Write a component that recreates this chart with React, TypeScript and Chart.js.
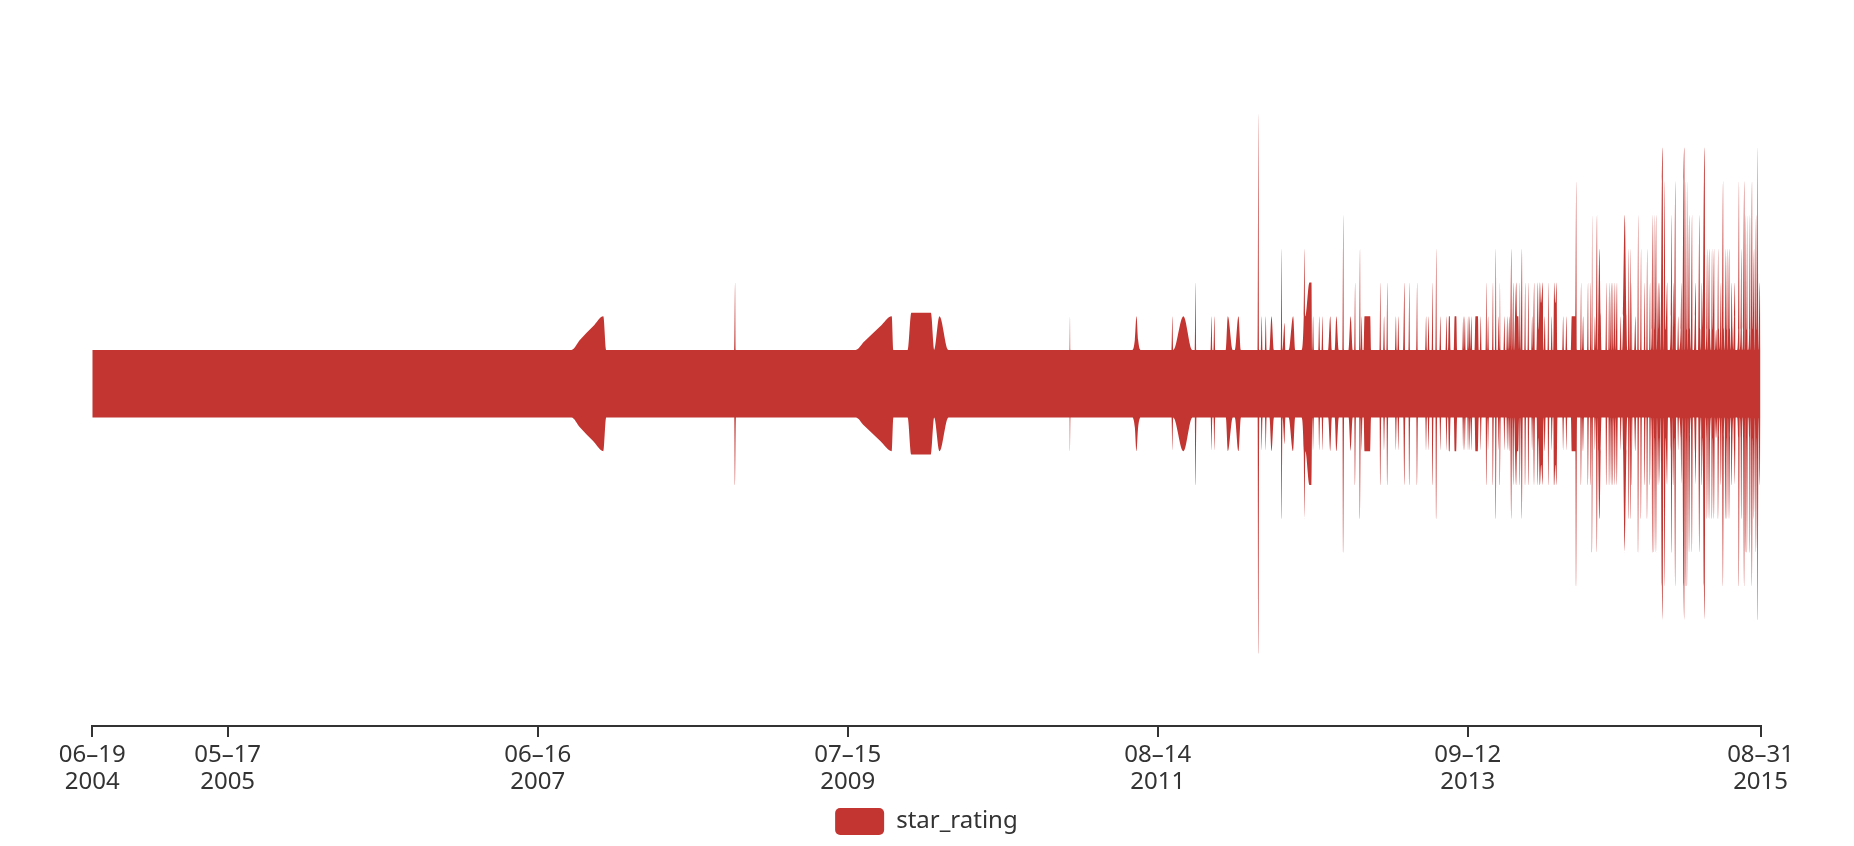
import React, { useEffect, useRef } from "react";
import { Chart, registerables } from "chart.js";

Chart.register(...registerables);

// ---- data -----------------------------------------------------------
// x = days since START_DATE, value = summed star rating for that review date
const START_DATE = "2004-06-19";
const SERIES_NAME = "star_rating";
const tickDates = ["2004-06-19", "2005-05-17", "2007-06-16", "2009-07-15", "2011-08-14", "2013-09-12", "2015-08-31"];

const points2004to2010: [number, number][] = [
  [0, 5], [1175, 5], [1196, 6.5], [1228, 8.5], [1253, 10], [1260, 5],
  [1574, 5], [1576, 15], [1578, 5],
  [1872, 5], [1892, 6.2], [1932, 8.5], [1960, 10], [1964, 5],
  [1999, 5], [2008, 10.5], [2056, 10.5], [2064, 5], [2077, 10], [2099, 5],
  [2396, 5], [2397, 10], [2398, 5],
];

const points2011to2013: [number, number][] = [
  [2550, 5], [2556, 6.5], [2560, 10], [2564, 6.5], [2570, 5],
  [2646, 5], [2648, 10], [2650, 5], [2675, 10], [2697, 5],
  [2703, 5], [2705, 15], [2707, 5],
  [2742, 5], [2744, 10], [2746, 5], [2749, 5], [2751, 10], [2753, 5],
  [2779, 5], [2784, 10], [2796, 5],
  [2801, 5], [2810, 10], [2816, 5],
  [2857, 5], [2859, 40], [2861, 5],
  [2865, 5], [2867, 10], [2869, 5], [2875, 5], [2877, 10], [2879, 5],
  [2886, 5], [2891, 10], [2897, 5],
  [2914, 5], [2916, 20], [2918, 5], [2923, 9], [2925, 5],
  [2933, 5], [2944, 10], [2949, 5],
  [2964, 5], [2970, 10], [2972, 20], [2974, 10], [2984, 15], [2989, 15], [2991, 5], [2993, 10], [2995, 5],
  [3006, 5], [3008, 10], [3010, 5], [3014, 5], [3016, 10], [3018, 5],
  [3030, 5], [3035, 10], [3039, 5],
  [3046, 5], [3050, 10], [3056, 5],
  [3065, 5], [3067, 25], [3069, 5],
  [3080, 5], [3085, 10], [3090, 5],
  [3094, 5], [3096, 15], [3098, 5],
  [3106, 5], [3108, 20], [3110, 5], [3112, 10], [3114, 5],
  [3117, 5], [3119, 10], [3133, 10], [3135, 5],
  [3156, 5], [3158, 15], [3160, 5],
  [3165, 5], [3167, 10], [3169, 5],
  [3173, 5], [3175, 15], [3177, 5],
  [3194, 5], [3196, 10], [3198, 5], [3200, 5], [3202, 10], [3204, 5],
  [3214, 5], [3217, 15], [3219, 5],
  [3227, 5], [3229, 15], [3231, 5],
  [3246, 5], [3248, 15], [3250, 5],
  [3268, 5], [3270, 10], [3272, 5], [3274, 5], [3276, 10], [3278, 5],
];

const points2013to2014: [number, number][] = [
  [3284, 5], [3286, 15], [3288, 5],
  [3293, 5], [3295, 20], [3297, 5],
  [3303, 5], [3305, 10], [3307, 5],
  [3318, 5], [3320, 10], [3322, 5],
  [3324, 5], [3326, 10], [3328, 10], [3330, 5],
  [3338, 5], [3340, 10], [3344, 10], [3346, 5],
  [3359, 5], [3361, 10], [3363, 5], [3365, 10], [3367, 5],
  [3371, 5], [3373, 10], [3375, 5], [3377, 10], [3379, 5], [3381, 10], [3383, 5],
  [3389, 5], [3391, 10], [3397, 10], [3399, 5],
  [3402, 5], [3404, 10], [3406, 5],
  [3416, 5], [3418, 15], [3420, 5], [3422, 10], [3424, 5],
  [3432, 5], [3434, 15], [3436, 5], [3439, 5], [3441, 20], [3443, 5],
  [3446, 5], [3448, 10], [3450, 5], [3451, 15], [3453, 5],
  [3460, 5], [3462, 10], [3464, 5], [3467, 5], [3469, 10], [3471, 5], [3474, 10], [3476, 5],
  [3479, 20], [3481, 5], [3484, 15], [3486, 5], [3488, 10], [3491, 15], [3493, 10], [3496, 10], [3498, 5],
  [3500, 15], [3502, 5], [3505, 20], [3507, 5],
  [3511, 5], [3513, 15], [3515, 5],
  [3519, 5], [3521, 15], [3523, 5],
  [3528, 5], [3530, 10], [3532, 5], [3535, 15], [3537, 5],
  [3541, 5], [3544, 15], [3546, 8], [3549, 15], [3552, 12], [3556, 15], [3558, 5],
  [3561, 10], [3563, 5],
  [3568, 5], [3570, 15], [3572, 5],
  [3576, 5], [3578, 10], [3580, 5],
  [3582, 5], [3584, 15], [3587, 12], [3590, 15], [3592, 5],
  [3604, 5], [3606, 10], [3608, 5],
  [3612, 5], [3614, 10], [3616, 5],
  [3625, 5], [3627, 10], [3636, 10], [3638, 30], [3640, 5],
  [3648, 5], [3650, 15], [3652, 5], [3655, 10], [3657, 5],
  [3665, 5], [3667, 15], [3669, 5],
  [3672, 5], [3674, 15], [3676, 5], [3677, 25], [3679, 5],
  [3682, 5], [3684, 10], [3686, 5], [3689, 25], [3691, 5], [3692, 10], [3695, 20], [3698, 10], [3700, 5],
  [3710, 5], [3712, 15], [3714, 5], [3717, 5], [3719, 15], [3721, 5], [3724, 15], [3726, 5],
  [3728, 15], [3730, 5], [3733, 15], [3735, 5], [3738, 15], [3740, 5],
  [3745, 5], [3747, 10], [3749, 5],
  [3751, 5], [3753, 10], [3757, 25], [3761, 10], [3763, 5],
  [3765, 5], [3767, 20], [3769, 5], [3771, 20], [3773, 5], [3774, 15], [3776, 5],
  [3780, 5], [3783, 10], [3785, 5],
  [3788, 5], [3790, 25], [3792, 5],
  [3795, 5], [3797, 20], [3799, 5],
  [3804, 5], [3806, 15], [3808, 5],
  [3810, 5], [3812, 20], [3814, 5],
];

const points2014to2015: [number, number][] = [
  [3817, 5], [3819, 15], [3821, 5], [3823, 8], [3825, 25], [3827, 5], [3829, 25], [3831, 8],
  [3834, 25], [3836, 5], [3839, 15], [3841, 8], [3843, 15], [3845, 5], [3848, 30], [3850, 35],
  [3852, 5], [3855, 30], [3857, 8], [3861, 15], [3863, 5],
  [3867, 5], [3870, 10], [3872, 25], [3874, 5], [3876, 15], [3878, 8], [3881, 30], [3883, 5],
  [3886, 5], [3888, 10], [3890, 5], [3894, 8], [3896, 15], [3898, 5], [3901, 30], [3903, 35],
  [3905, 5], [3907, 30], [3909, 8], [3910, 30], [3912, 5], [3915, 25], [3917, 8], [3919, 5],
  [3922, 25], [3924, 5], [3927, 5], [3929, 10], [3931, 15], [3933, 5], [3937, 5], [3940, 25],
  [3942, 8], [3944, 5], [3946, 15], [3948, 8], [3951, 30], [3953, 35], [3955, 5], [3957, 8],
  [3959, 20], [3961, 5], [3964, 20], [3966, 8], [3969, 5], [3971, 20], [3973, 8], [3976, 20],
  [3978, 5], [3981, 8], [3984, 5], [3986, 20], [3988, 8], [3990, 5], [3993, 15], [3995, 5],
  [3998, 30], [4000, 8], [4002, 5], [4004, 20], [4006, 8], [4008, 20], [4010, 5], [4013, 20],
  [4015, 8], [4017, 5], [4019, 15], [4021, 8], [4023, 5], [4025, 10], [4027, 15], [4029, 5],
  [4032, 5], [4035, 8], [4037, 30], [4039, 5], [4041, 8], [4043, 20], [4045, 5], [4047, 8],
  [4050, 30], [4052, 5], [4054, 25], [4056, 8], [4057, 25], [4059, 5], [4062, 8], [4064, 25],
  [4066, 5], [4069, 30], [4071, 8], [4074, 20], [4076, 5], [4079, 25], [4081, 8], [4083, 35],
  [4085, 5], [4088, 15], [4090, 5],
];

// ---- helpers --------------------------------------------------------
const RED = "#c23531";
const TEXT = "#333";
const FONT = "'Noto Sans', 'DejaVu Sans', sans-serif";
const DAY_MS = 86400000;
const dayOf = (iso: string) => Math.round((Date.parse(iso) - Date.parse(START_DATE)) / DAY_MS);
const tickLabel = (iso: string) => {
  const [y, m, d] = iso.split("-");
  return [`${m}\u2013${d}`, y];
};

export default function App() {
  const canvasRef = useRef<HTMLCanvasElement | null>(null);

  useEffect(() => {
    const canvas = canvasRef.current;
    if (!canvas) return;
    const allPoints = [...points2004to2010, ...points2011to2013, ...points2013to2014, ...points2014to2015];
    const tickValues = tickDates.map(dayOf);

    const chart = new Chart(canvas, {
      type: "line",
      data: {
        datasets: [
          {
            label: SERIES_NAME,
            data: allPoints.map(([x, v]) => ({ x, y: v / 2 })),
            fill: "+1",
            backgroundColor: RED,
            borderColor: "rgba(0,0,0,0)",
            borderWidth: 0,
            pointRadius: 0,
            cubicInterpolationMode: "monotone",
          },
          {
            label: SERIES_NAME + "_lower",
            data: allPoints.map(([x, v]) => ({ x, y: -v / 2 })),
            fill: false,
            backgroundColor: RED,
            borderColor: "rgba(0,0,0,0)",
            borderWidth: 0,
            pointRadius: 0,
            cubicInterpolationMode: "monotone",
          },
        ],
      },
      options: {
        animation: false,
        responsive: false,
        devicePixelRatio: 1,
        events: [],
        layout: { padding: { left: 92.2, right: 93.4, top: 20, bottom: 1 } },
        scales: {
          x: {
            type: "linear",
            min: tickValues[0],
            max: tickValues[tickValues.length - 1],
            afterBuildTicks: (scale: any) => {
              scale.ticks = tickValues.map((value) => ({ value }));
            },
            afterFit: (scale: any) => {
              scale.height = 72;
            },
            ticks: {
              autoSkip: false,
              maxRotation: 0,
              minRotation: 0,
              padding: 5,
              color: TEXT,
              font: { family: FONT, size: 24, lineHeight: 1.125 },
              callback: (value: any) => {
                const i = tickValues.indexOf(Number(value));
                return i >= 0 ? tickLabel(tickDates[i]) : "";
              },
            },
            grid: {
              display: true,
              drawOnChartArea: false,
              drawTicks: true,
              tickLength: 11,
              color: TEXT,
              lineWidth: 2,
            },
            border: { display: true, color: TEXT, width: 2 },
          },
          y: { display: false, min: -25.36, max: 26.94 },
        },
        plugins: {
          legend: {
            position: "bottom",
            labels: {
              filter: (item: any) => item.datasetIndex === 0,
              boxWidth: 49,
              boxHeight: 27,
              useBorderRadius: true,
              borderRadius: 5,
              padding: 10,
              color: TEXT,
              font: { family: FONT, size: 24 },
            },
          },
          tooltip: { enabled: false },
        },
      } as any,
    });

    return () => chart.destroy();
  }, []);

  return (
    <div style={{ position: "absolute", left: 0, top: 0, width: 1854, height: 846, background: "#fff" }}>
      <canvas ref={canvasRef} width={1854} height={846} style={{ display: "block" }} />
    </div>
  );
}
